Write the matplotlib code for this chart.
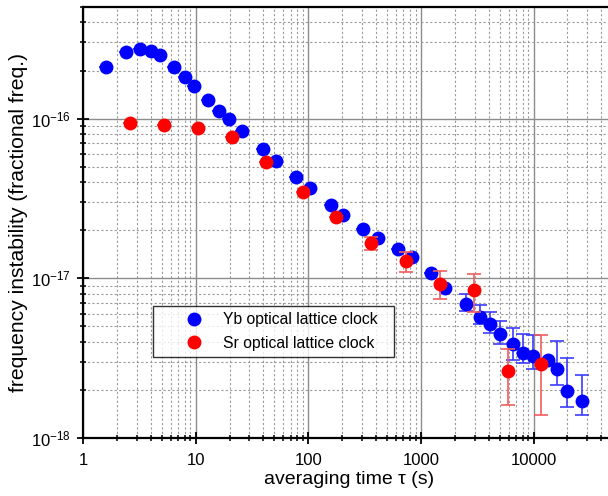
import numpy as np
import matplotlib.pyplot as plt
from matplotlib.ticker import FixedLocator, LogLocator, LogFormatterMathtext, NullFormatter

plt.rcParams['font.family'] = ['Liberation Sans', 'DejaVu Sans']
plt.rcParams['mathtext.fontset'] = 'custom'
plt.rcParams['mathtext.rm'] = 'Liberation Sans'
plt.rcParams['mathtext.it'] = 'Liberation Sans:italic'

# Yb optical lattice clock (tau in s, Allan deviation in units of 1e-18)
yb_tau = [1.6, 2.41, 3.2, 3.99, 4.82, 6.42, 7.98, 9.6, 12.85, 16.2, 19.6, 25.7,
          39.3, 51.5, 77.6, 103, 158, 204, 307, 415, 624, 826, 1225, 1630,
          2490, 3334, 4086, 5012, 6580, 8070, 9900, 13450, 16300, 20000, 26900]
yb_sig = [212, 260, 273, 266, 250, 212, 181, 159, 130, 112, 100, 83.3,
          64.7, 54.6, 43.0, 36.7, 28.7, 25.0, 20.5, 17.9, 15.2, 13.5, 10.8, 8.75,
          6.95, 5.73, 5.14, 4.47, 3.87, 3.41, 3.25, 3.07, 2.69, 1.97, 1.71]
yb_err_lo = [0] * 24 + [0.70, 0.57, 0.59, 0.60, 0.80, 0.48, 0.55, 0, 0.55, 0.41, 0.32]
yb_err_hi = [0] * 24 + [0.99, 1.05, 0.97, 0.94, 1.03, 1.10, 1.19, 0, 1.36, 1.22, 0.76]

# Sr optical lattice clock
sr_tau = [2.61, 5.27, 10.5, 21, 42, 90, 176, 364, 734, 1472, 2946, 5940, 11590]
sr_sig = [93.5, 91.7, 87.5, 76.4, 53.3, 34.5, 24.1, 16.6, 12.8, 9.27, 8.41, 2.62, 2.9]
sr_err = [0, 0, 0, 0, 0, 0, 0, 1.5, 1.85, 1.86, 2.3, 1.0, 1.51]

x_major = [1, 10, 100, 1000, 10000]
y_major = [1e-18, 1e-17, 1e-16]

scale = 1e-18
yb_sig = np.array(yb_sig) * scale
yb_yerr = np.array([yb_err_lo, yb_err_hi]) * scale
sr_sig = np.array(sr_sig) * scale
sr_yerr = np.array(sr_err) * scale

fig = plt.figure(figsize=(6.08, 4.96), dpi=100)
ax = fig.add_axes([83/608, 58/496, 533/608, 431/496])
ax.set_xscale('log')
ax.set_yscale('log')

ax.errorbar(yb_tau, yb_sig, yerr=yb_yerr, fmt='none', ecolor='#3c3cff',
            elinewidth=1.2, capsize=5, capthick=1.2, zorder=3)
ax.plot(yb_tau, yb_sig, 'o', color='#0000ff', ms=10, mec='none', zorder=4,
        label='Yb optical lattice clock')
ax.errorbar(sr_tau, sr_sig, yerr=sr_yerr, fmt='none', ecolor='#f25c5c',
            elinewidth=1.2, capsize=5, capthick=1.2, zorder=5)
ax.plot(sr_tau, sr_sig, 'o', color='#ff0000', ms=10, mec='none', zorder=6,
        label='Sr optical lattice clock')

ax.set_xlim(1, 5.4e4)
ax.set_ylim(1e-18, 5e-16)

ax.xaxis.set_major_locator(FixedLocator(x_major))
ax.xaxis.set_minor_locator(LogLocator(base=10, subs=np.arange(2, 10)))
ax.yaxis.set_major_locator(FixedLocator(y_major))
ax.yaxis.set_minor_locator(LogLocator(base=10, subs=np.arange(2, 10)))
ax.xaxis.set_major_formatter(plt.FuncFormatter(lambda v, p: '%d' % round(v)))
ax.xaxis.set_minor_formatter(NullFormatter())
ax.yaxis.set_major_formatter(LogFormatterMathtext())
ax.yaxis.set_minor_formatter(NullFormatter())

ax.grid(True, which='major', color='#8c8c8c', linestyle='-', linewidth=1.0)
ax.grid(True, which='minor', color='#9a9a9a', linestyle=(0, (2, 2)), linewidth=0.8)
ax.set_axisbelow(True)

ax.tick_params(which='major', direction='inout', length=8, width=1.3,
               labelsize=12, pad=5)
ax.tick_params(which='minor', direction='inout', length=4.5, width=1.1)
ax.tick_params(axis='x', which='major', pad=7)
for s in ['left', 'bottom', 'top']:
    ax.spines[s].set_linewidth(1.6)
ax.spines['right'].set_visible(False)

ax.set_xlabel('averaging time τ (s)', fontsize=14, labelpad=2)
ax.set_ylabel('frequency instability (fractional freq.)', fontsize=15.2, labelpad=2)

leg = ax.legend(loc='upper left', bbox_to_anchor=(153/608, 134/496, 241/608, 56/496),
                bbox_transform=fig.transFigure, mode='expand', borderaxespad=0,
                fontsize=11.3, frameon=True, fancybox=False, edgecolor='black',
                borderpad=0.4, handlelength=4.4, handletextpad=-0.35,
                labelspacing=0.55, numpoints=1)
leg.get_frame().set_linewidth(1.0)

plt.savefig('out.png', dpi=100)
